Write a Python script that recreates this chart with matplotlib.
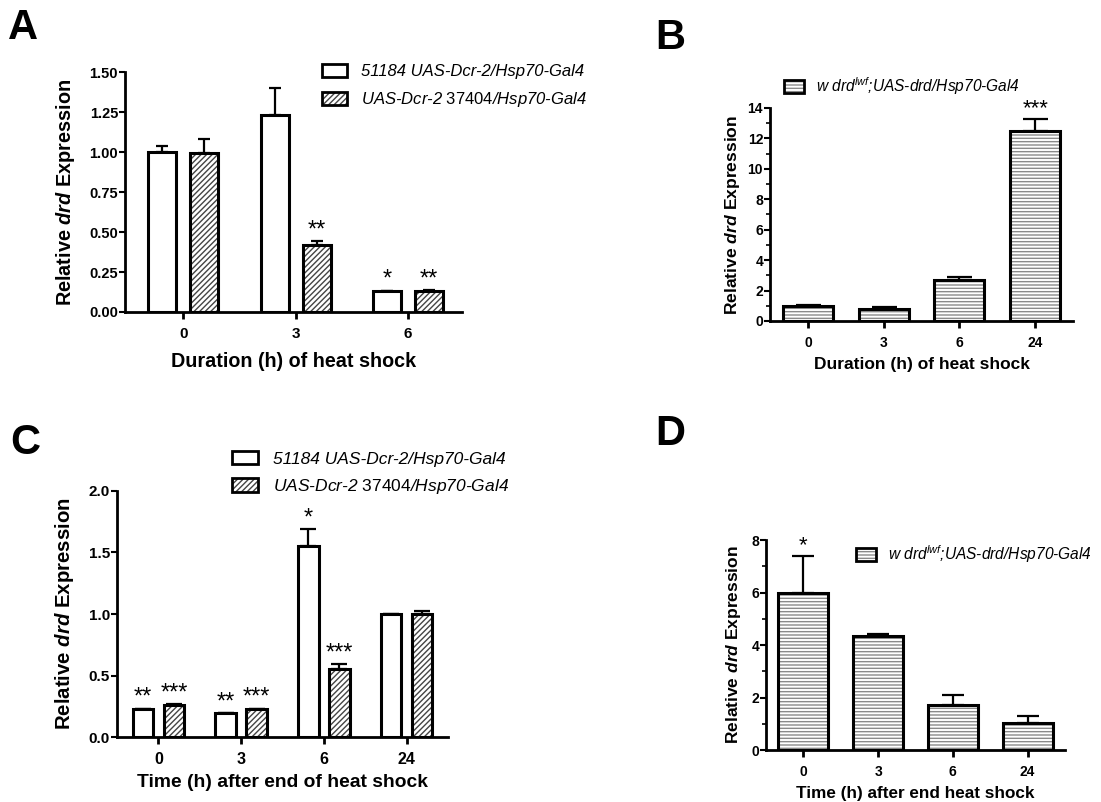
import numpy as np
import matplotlib
matplotlib.use('Agg')
import matplotlib.pyplot as plt
from matplotlib.patches import Patch

plt.rcParams['font.family'] = ['Liberation Sans', 'DejaVu Sans']
plt.rcParams['mathtext.fontset'] = 'custom'
plt.rcParams['mathtext.rm'] = 'Liberation Sans'
plt.rcParams['mathtext.it'] = 'Liberation Sans:italic'
plt.rcParams['mathtext.bf'] = 'Liberation Sans:bold'
plt.rcParams['mathtext.bfit'] = 'Liberation Sans:italic:bold'
plt.rcParams['hatch.linewidth'] = 1.0

#Panel A data (duration of heat shock)
a_groups = ['0', '3', '6']
a_white = [1.00, 1.235, 0.133]
a_white_err = [0.04, 0.163, 0.0]
a_hatch = [0.992, 0.419, 0.133]
a_hatch_err = [0.089, 0.023, 0.004]
a_white_stars = ['', '', '*']
a_hatch_stars = ['', '**', '**']

#Panel B data
b_groups = ['0', '3', '6', '24']
b_vals = [0.99, 0.79, 2.70, 12.5]
b_err = [0.05, 0.15, 0.22, 0.79]
b_stars = ['', '', '', '***']

#Panel C data (time after end of heat shock)
c_groups = ['0', '3', '6', '24']
c_white = [0.228, 0.195, 1.553, 0.997]
c_white_err = [0.0, 0.0, 0.137, 0.0]
c_hatch = [0.258, 0.228, 0.55, 0.997]
c_hatch_err = [0.007, 0.0, 0.04, 0.025]
c_white_stars = ['**', '**', '*', '']
c_hatch_stars = ['***', '***', '***', '']

#Panel D data
d_groups = ['0', '3', '6', '24']
d_vals = [5.97, 4.35, 1.71, 1.02]
d_err = [1.43, 0.07, 0.39, 0.28]
d_stars = ['*', '', '', '']

lab1 = '51184 UAS-Dcr-2/Hsp70-Gal4'
lab2 = 'UAS-Dcr-2 $\\mathrm{37404}$/Hsp70-Gal4'
lab3 = 'w drd$^{lwf}$;UAS-drd/Hsp70-Gal4'
ylab = 'Relative $\\mathbfit{drd}$ Expression'

diag_col = '#444444'
horiz_col = '#8a8a8a'


def draw_bars(ax, x, vals, err, width, hatch, hcol, capsize, stars, sfs):
    #hatch first, black outline on top
    ax.bar(x, vals, width, color='white', hatch=hatch, edgecolor=hcol, linewidth=0)
    ax.bar(x, vals, width, facecolor='none', edgecolor='black', linewidth=2.2)
    ax.errorbar(x, vals, yerr=[np.zeros(len(vals)), err], fmt='none', ecolor='black',
                elinewidth=1.6, capsize=capsize, capthick=1.6)
    for xi, v, e, s in zip(x, vals, err, stars):
        if s:
            ax.annotate(s, xy=(xi, v + e), xytext=(0, 0), textcoords='offset points',
                        ha='center', va='bottom', fontsize=sfs)


def style_axes(ax, groups, ymax, yticks, minor=None, tfs=9, xfs=10):
    ax.set_ylim(0, ymax)
    ax.set_xlim(-0.5, len(groups) - 0.5)
    ax.set_xticks(np.arange(len(groups)), groups)
    ax.set_yticks(yticks)
    if minor is not None:
        ax.set_yticks(minor, minor=True)
    for s in ['top', 'right']:
        ax.spines[s].set_visible(False)
    for s in ['left', 'bottom']:
        ax.spines[s].set_linewidth(2)
    ax.tick_params(axis='x', length=5, width=2, labelsize=xfs, pad=6)
    ax.tick_params(axis='y', length=4, width=1.5, labelsize=tfs, pad=1)
    ax.tick_params(axis='y', which='minor', length=3, width=1.2)


def bold_ticks(ax):
    for lbl in ax.get_xticklabels() + ax.get_yticklabels():
        lbl.set_fontweight('bold')


fig = plt.figure(figsize=(11.01, 8.02), dpi=100)

#A
ax = fig.add_axes([0.1135, 0.611, 0.306, 0.299])
x = np.arange(len(a_groups))
draw_bars(ax, x - 0.187, a_white, a_white_err, 0.25, None, 'black', 4.5, a_white_stars, 17)
draw_bars(ax, x + 0.187, a_hatch, a_hatch_err, 0.25, '//////', diag_col, 4.5, a_hatch_stars, 17)
style_axes(ax, a_groups, 1.5, [0, 0.25, 0.5, 0.75, 1.0, 1.25, 1.5], tfs=10.5, xfs=11)
ax.set_xlim(-0.52, 2.48)
ax.set_yticklabels(['0.00', '0.25', '0.50', '0.75', '1.00', '1.25', '1.50'])
bold_ticks(ax)
ax.set_ylabel(ylab, fontsize=14.3, fontweight='bold', labelpad=9)
ax.set_xlabel('Duration (h) of heat shock', fontsize=14.2, fontweight='bold', labelpad=8)
h1 = (Patch(facecolor='white', edgecolor='black', linewidth=2),)
h2 = (Patch(facecolor='white', hatch='//////', edgecolor=diag_col, linewidth=0),
      Patch(facecolor='none', edgecolor='black', linewidth=2))
ax.legend([h1, h2], [lab1, lab2], loc='upper left', bbox_to_anchor=(322 / 1101, 1 - 64 / 802),
          bbox_transform=fig.transFigure, frameon=False, borderpad=0, borderaxespad=0,
          handlelength=1.5, handleheight=0.8, handletextpad=0.85, labelspacing=0.65,
          prop={'style': 'italic', 'size': 12})

#B
ax = fig.add_axes([0.6994, 0.5998, 0.2752, 0.2656])
x = np.arange(len(b_groups))
draw_bars(ax, x, b_vals, b_err, 0.66, '-----', horiz_col, 9, b_stars, 16)
style_axes(ax, b_groups, 14, np.arange(0, 15, 2), minor=np.arange(1, 14, 2), tfs=10, xfs=10)
bold_ticks(ax)
ax.set_ylabel(ylab, fontsize=12.6, fontweight='bold', labelpad=4)
ax.set_xlabel('Duration (h) of heat shock', fontsize=12.5, fontweight='bold', labelpad=5)
hb = (Patch(facecolor='white', hatch='-----', edgecolor=horiz_col, linewidth=0),
      Patch(facecolor='none', edgecolor='black', linewidth=2))
ax.legend([hb], [lab3], loc='center left', bbox_to_anchor=(784 / 1101, 1 - 86 / 802),
          bbox_transform=fig.transFigure, frameon=False, borderpad=0, borderaxespad=0,
          handlelength=1.3, handleheight=0.85, handletextpad=0.75,
          prop={'style': 'italic', 'size': 11.2})

#C
ax = fig.add_axes([0.1063, 0.081, 0.3006, 0.3068])
x = np.arange(len(c_groups))
draw_bars(ax, x - 0.187, c_white, c_white_err, 0.25, None, 'black', 6, c_white_stars, 17)
draw_bars(ax, x + 0.187, c_hatch, c_hatch_err, 0.25, '//////', diag_col, 6, c_hatch_stars, 17)
style_axes(ax, c_groups, 2.0, [0, 0.5, 1.0, 1.5, 2.0], tfs=11, xfs=11.5)
bold_ticks(ax)
ax.set_ylabel(ylab, fontsize=14.7, fontweight='bold', labelpad=9)
ax.set_xlabel('Time (h) after end of heat shock', fontsize=13.9, fontweight='bold', labelpad=5)
ax.legend([h1, h2], [lab1, lab2], loc='upper left', bbox_to_anchor=(232 / 1101, 1 - 451 / 802),
          bbox_transform=fig.transFigure, frameon=False, borderpad=0, borderaxespad=0,
          handlelength=1.5, handleheight=0.8, handletextpad=0.85, labelspacing=0.6,
          prop={'style': 'italic', 'size': 12.5})

#D
ax = fig.add_axes([0.6957, 0.0648, 0.2716, 0.2618])
x = np.arange(len(d_groups))
draw_bars(ax, x, d_vals, d_err, 0.67, '-----', horiz_col, 8, d_stars, 16)
style_axes(ax, d_groups, 8, np.arange(0, 9, 2), minor=np.arange(1, 8, 2), tfs=10, xfs=10)
bold_ticks(ax)
ax.set_ylabel(ylab, fontsize=12.5, fontweight='bold', labelpad=6)
ax.set_xlabel('Time (h) after end heat shock', fontsize=12.3, fontweight='bold', labelpad=5)
ax.legend([hb], [lab3], loc='center left', bbox_to_anchor=(856 / 1101, 1 - 554 / 802),
          bbox_transform=fig.transFigure, frameon=False, borderpad=0, borderaxespad=0,
          handlelength=1.3, handleheight=0.85, handletextpad=0.75,
          prop={'style': 'italic', 'size': 11.2})

#Panel letters
for letter, px, py in [('A', 8, 8), ('B', 655, 18), ('C', 10, 423), ('D', 655, 414)]:
    fig.text(px / 1101, 1 - py / 802, letter, fontsize=30, fontweight='bold', va='top', ha='left')

fig.savefig('out.png', dpi=100)
